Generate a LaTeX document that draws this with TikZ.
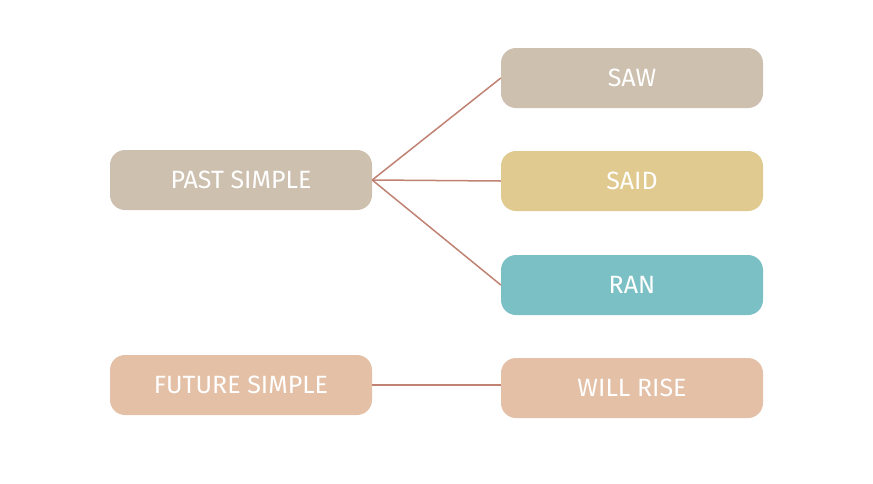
\documentclass[tikz,border=0pt]{standalone}
\usepackage{fontspec}
\setmainfont{Fira Sans}
\definecolor{pastcol}{HTML}{CDC0AF}
\definecolor{saidcol}{HTML}{E0CA90}
\definecolor{rancol}{HTML}{7BC0C4}
\definecolor{futcol}{HTML}{E3C0A6}
\definecolor{linkcol}{HTML}{C08272}
\tikzset{
	verbbox/.style={rounded corners=15pt,minimum width=262pt,minimum height=60pt,text=white,font=\fontsize{25}{28}\selectfont,inner sep=0pt},
	link/.style={draw=linkcol,line width=1.5pt}
}
\begin{document}
\begin{tikzpicture}[x=1pt,y=-1pt]
	\useasboundingbox (0,0) rectangle (873,483);
	\node [verbbox,fill=pastcol] (past) at (241,180) {PAST SIMPLE};
	\node [verbbox,fill=pastcol] (saw) at (632,78) {SAW};
	\node [verbbox,fill=saidcol] (said) at (632,181) {SAID};
	\node [verbbox,fill=rancol] (ran) at (632,285) {RAN};
	\node [verbbox,fill=futcol] (future) at (241,385) {FUTURE SIMPLE};
	\node [verbbox,fill=futcol] (rise) at (632,388) {WILL RISE};
	\draw [link] (past.east) -- (saw.west);
	\draw [link] (past.east) -- (said.west);
	\draw [link] (past.east) -- (ran.west);
	\draw [link] (future.east) -- (future.east -| rise.west);
\end{tikzpicture}
\end{document}
